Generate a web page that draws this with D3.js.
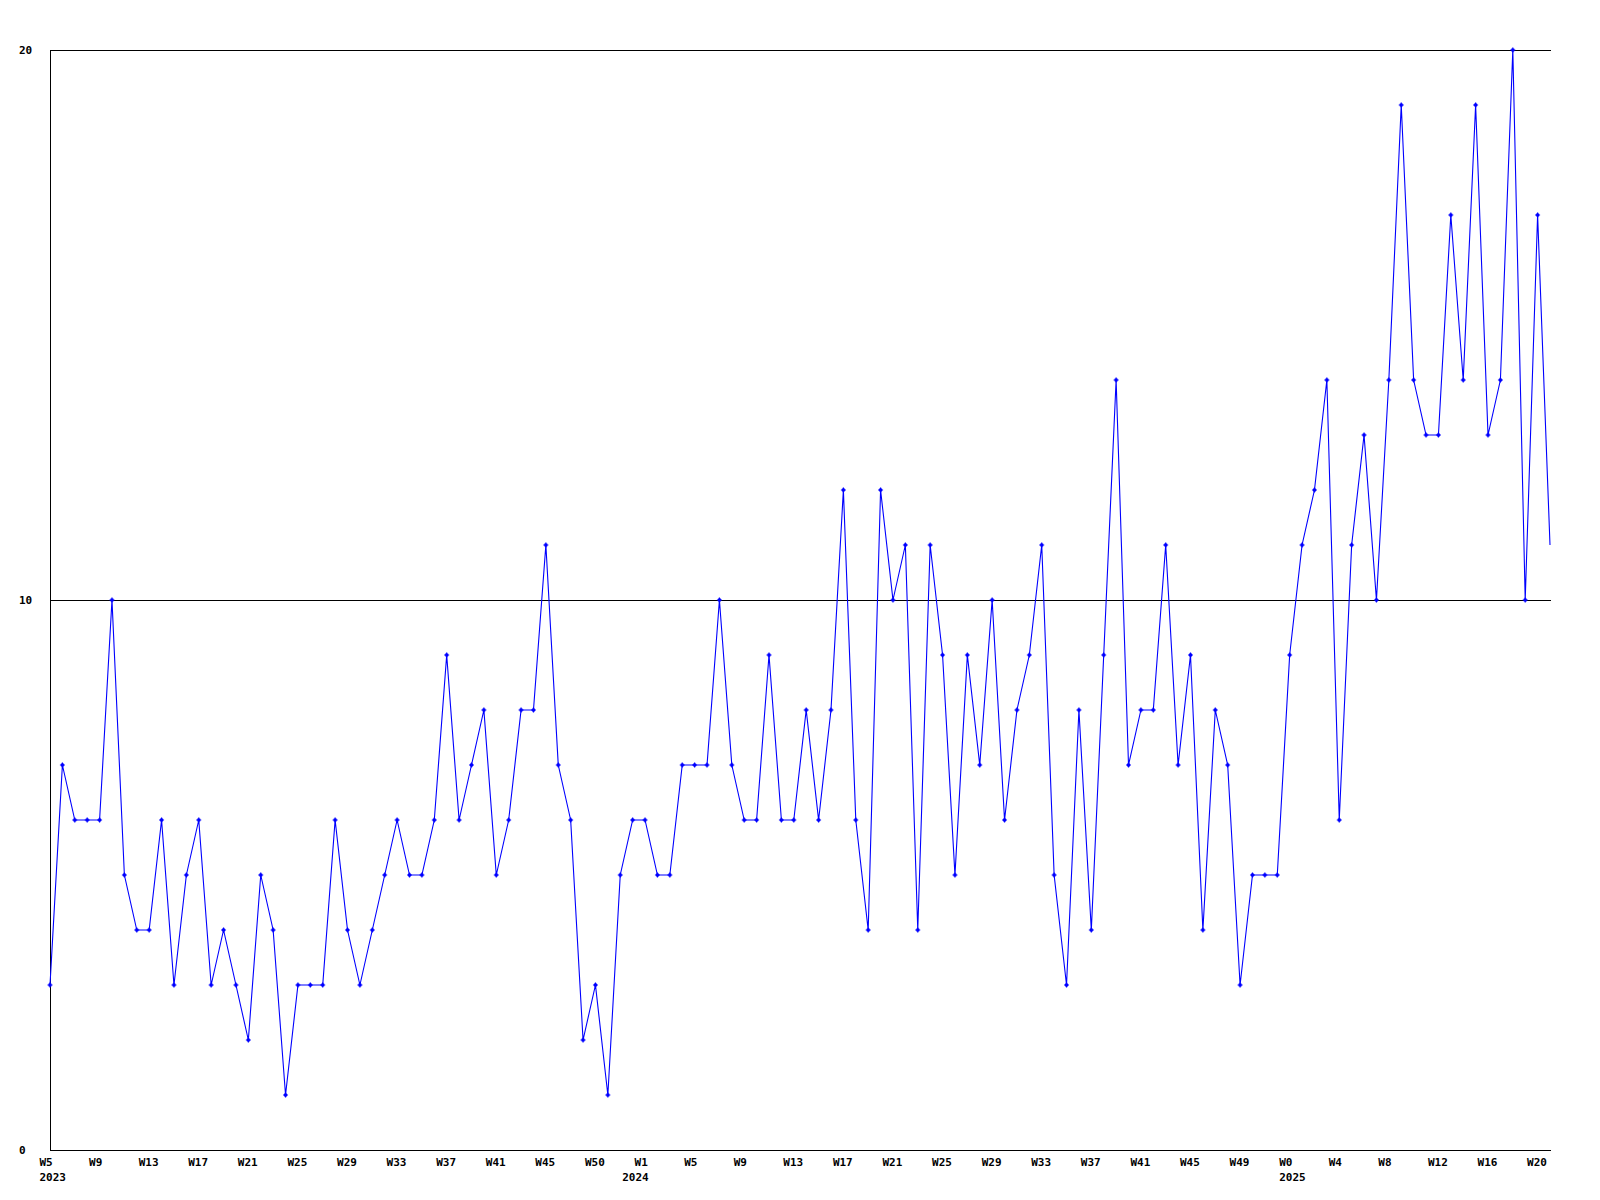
<!DOCTYPE html>
<html>
<head>
<meta charset="utf-8">
<script src="https://cdn.jsdelivr.net/npm/d3@7"></script>
<style>
  html, body { margin: 0; padding: 0; background: #ffffff; }
  text { font-family: "DejaVu Sans Mono", "Liberation Mono", monospace; font-weight: bold; font-size: 11px; fill: #000; }
</style>
</head>
<body>
<svg id="chart" width="1600" height="1200"></svg>
<script>
// Weekly counts, 2023 W5 through 2025 W21 (one value per week)
const values = [
  3,7,6,6,6,10,5,4,4,6,3,5,6,3,4,3,2,5,4,1,3,3,3,6,4,3,4,5,6,
  5,5,6,9,6,7,8,5,6,8,8,11,7,6,2,3,1,5,6,6,5,5,7,7,7,10,7,6,6,9,
  6,6,8,6,8,12,6,4,12,10,11,4,11,9,5,9,7,10,6,8,9,11,5,3,8,4,9,14,7,8,8,
  11,7,9,4,8,7,3,5,5,5,9,11,12,14,6,11,13,10,14,19,14,13,13,17,14,19,13,14,20,10,17,11
];
// Week tick labels and the week index they belong to
const tickLabels = ["W5","W9","W13","W17","W21","W25","W29","W33","W37","W41","W45","W50",
  "W1","W5","W9","W13","W17","W21","W25","W29","W33","W37","W41","W45","W49",
  "W0","W4","W8","W12","W16","W20"];
const tickIndex = [0,4,8,12,16,20,24,28,32,36,40,44,
  48,52,56,60,64,68,72,76,80,84,88,92,96,
  100,104,108,112,116,120];
// Year labels
const yearLabels = ["2023","2024","2025"];
const yearIndex = [0,47,100];
// Y axis ticks
const yTicks = [0,10,20];

const svg = d3.select("#chart");
const mLeft = 50, mRight = 1550, mTop = 50, mBottom = 1150;

const x = d3.scaleLinear().domain([0, values.length - 1]).range([mLeft, mRight]);
const y = d3.scaleLinear().domain([0, 20]).range([mBottom, mTop]);

// Horizontal grid lines (10, 20)
svg.append("g").selectAll("line")
  .data(yTicks.filter(d => d > 0))
  .join("line")
  .attr("x1", mLeft).attr("x2", mRight + 1)
  .attr("y1", d => Math.round(y(d)) + 0.5).attr("y2", d => Math.round(y(d)) + 0.5)
  .attr("stroke", "#000").attr("stroke-width", 1)
  .attr("shape-rendering", "crispEdges");

// Axes lines
svg.append("line")
  .attr("x1", mLeft + 0.5).attr("x2", mLeft + 0.5)
  .attr("y1", mTop).attr("y2", mBottom + 1)
  .attr("stroke", "#000").attr("stroke-width", 1).attr("shape-rendering", "crispEdges");
svg.append("line")
  .attr("x1", mLeft).attr("x2", mRight + 1)
  .attr("y1", mBottom + 0.5).attr("y2", mBottom + 0.5)
  .attr("stroke", "#000").attr("stroke-width", 1.5).attr("shape-rendering", "crispEdges");

// Y labels
svg.append("g").selectAll("text")
  .data(yTicks)
  .join("text")
  .attr("x", 19)
  .attr("y", d => y(d))
  .attr("dy", "0.36em")
  .text(d => d);

// X week labels
svg.append("g").selectAll("text")
  .data(tickLabels)
  .join("text")
  .attr("x", (d, i) => x(tickIndex[i]) - 10.5)
  .attr("y", mBottom + 12)
  .attr("dy", "0.36em")
  .text(d => d);

// Year labels
svg.append("g").selectAll("text")
  .data(yearLabels)
  .join("text")
  .attr("x", (d, i) => x(yearIndex[i]) - 10.5)
  .attr("y", mBottom + 27)
  .attr("dy", "0.36em")
  .text(d => d);

// Data line
const line = d3.line().x((d, i) => x(i)).y(d => y(d));
svg.append("path")
  .datum(values)
  .attr("d", line)
  .attr("fill", "none")
  .attr("stroke", "#0000ff")
  .attr("stroke-width", 1.1);

// Markers (small plus shapes), not on the final in-progress week
const markers = svg.append("g").attr("fill", "#0000ff").attr("stroke", "#0000ff");
const pts = values.slice(0, values.length - 1);
markers.selectAll("path")
  .data(pts)
  .join("path")
  .attr("transform", (d, i) => `translate(${x(i)},${y(d)})`)
  .attr("d", "M-2.5,0H2.5M0,-2.5V2.5")
  .attr("stroke-width", 1.2);
markers.selectAll("rect")
  .data(pts)
  .join("rect")
  .attr("x", (d, i) => x(i) - 1.5)
  .attr("y", d => y(d) - 1.5)
  .attr("width", 3).attr("height", 3)
  .attr("stroke", "none");
</script>
</body>
</html>
